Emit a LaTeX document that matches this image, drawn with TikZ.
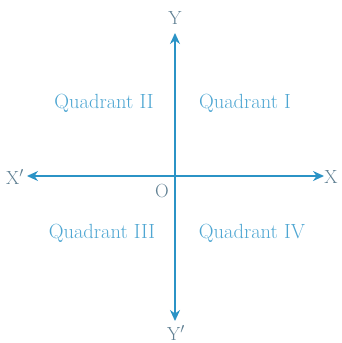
\documentclass[tikz,border=0pt]{standalone}
\usepackage{tikz}
\usetikzlibrary{arrows.meta,positioning}
\definecolor{axisblue}{HTML}{2B93C6}
\definecolor{quadblue}{HTML}{4EA6D2}
\definecolor{labgray}{HTML}{5F7F92}

\begin{document}
\begin{tikzpicture}[x=1pt,y=-1pt,>={Stealth[length=11pt,width=10pt]},
  axis/.style={<->,draw=axisblue,line width=2.4pt},
  quad/.style={text=quadblue,font=\fontsize{20.5}{24}\selectfont,inner sep=0pt},
  lab/.style={text=labgray,font=\fontsize{19}{22}\selectfont,inner sep=0pt}]
  \useasboundingbox (0,0) rectangle (341,343);
  \coordinate (xl) at (27,176);
  \coordinate (xr) at (324,176);
  \coordinate (yt) at (175,33);
  \coordinate (yb) at (175,321);
  \draw[axis] (xl) -- (xr);
  \draw[axis] (yt) -- (yb);
  \node[lab] (X) at (331,177) {X};
  \node[lab] (Xp) at (15,177) {X$'$};
  \node[lab] (Y) at (175,18) {Y};
  \node[lab] (Yp) at (176,333) {Y$'$};
  \node[lab] (O) at (162,191) {O};
  \node[quad] (q1) at (245,103) {Quadrant I};
  \node[quad] (q2) at (104,103) {Quadrant II};
  \node[quad] (q3) at (102,233) {Quadrant III};
  \node[quad] (q4) at (252,233) {Quadrant IV};
\end{tikzpicture}
\end{document}
